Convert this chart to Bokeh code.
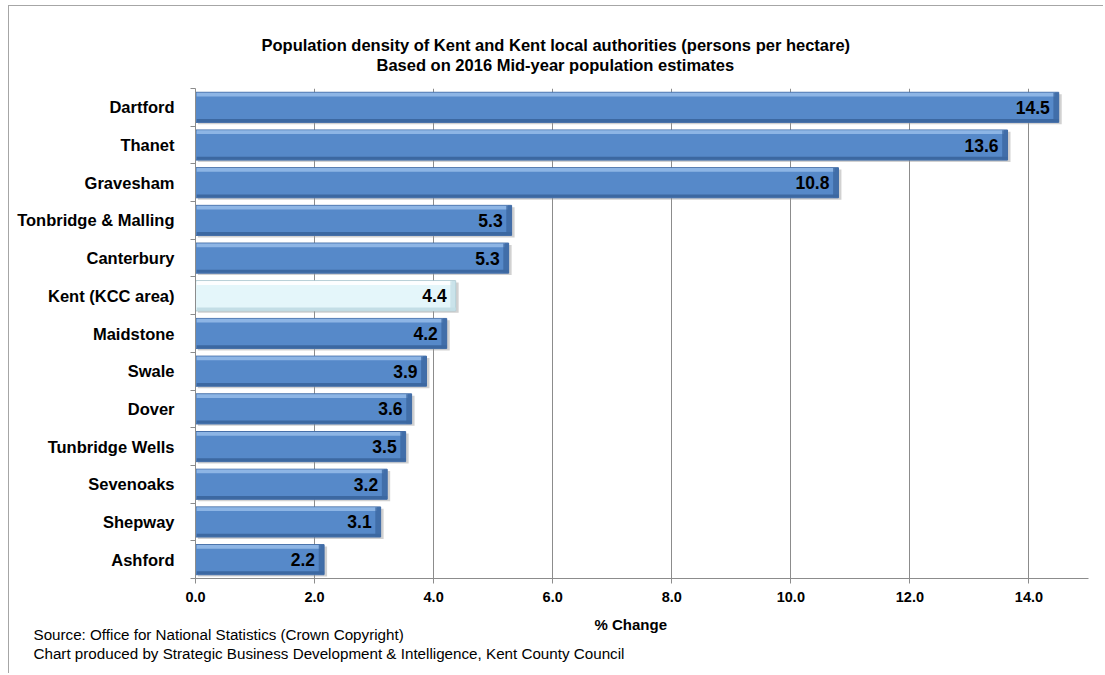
from bokeh.plotting import figure
from bokeh.models import FixedTicker, Title, ColumnDataSource, Range1d
from bokeh.transform import dodge
from bokeh.embed import file_html
from bokeh.resources import INLINE
from bokeh.core.properties import value

# ---- data ----
areas = ["Dartford", "Thanet", "Gravesham", "Tonbridge & Malling", "Canterbury",
         "Kent (KCC area)", "Maidstone", "Swale", "Dover", "Tunbridge Wells",
         "Sevenoaks", "Shepway", "Ashford"]
density = [14.5, 13.64, 10.8, 5.31, 5.26, 4.37, 4.22, 3.88, 3.63, 3.53, 3.22, 3.11, 2.16]
x_ticks = [0, 2, 4, 6, 8, 10, 12, 14]
x_tick_labels = ["0.0", "2.0", "4.0", "6.0", "8.0", "10.0", "12.0", "14.0"]
title_lines = ["Population density of Kent and Kent local authorities (persons per hectare)",
               "Based on 2016 Mid-year population estimates"]
x_title = "% Change"
source_lines = ["Source: Office for National Statistics (Crown Copyright)",
                "Chart produced by Strategic Business Development & Intelligence, Kent County Council"]

FONT = "Liberation Sans"
n = len(areas)
ypos = list(range(n - 1, -1, -1))  # Dartford at top
is_kent = [a.startswith("Kent") for a in areas]

src = ColumnDataSource(dict(
    y=ypos,
    v=density,
    label=[f"{d:.1f}" for d in density],
    main=["#E4F6FA" if k else "#5689C9" for k in is_kent],
    top=["#FFFFFF" if k else "#93BAE8" for k in is_kent],
    bot=["#C3DEE6" if k else "#3C68A1" for k in is_kent],
    edge=["#A8C5CD" if k else "#466FA8" for k in is_kent],
))

W, H = 1095, 668
XMAX = 15
p = figure(width=W, height=H, output_backend="svg", toolbar_location=None,
           x_range=Range1d(0, XMAX), y_range=Range1d(-0.5, n - 0.5),
           min_border_left=186, min_border_right=16, min_border_top=82, min_border_bottom=96)
p.styles = {"margin-left": "8px", "margin-top": "5px",
            "border-left": "1px solid #A6A6A6", "border-top": "1px solid #A6A6A6"}
p.outline_line_color = None
p.background_fill_color = "white"

# grid
p.ygrid.visible = False
p.xgrid.ticker = FixedTicker(ticks=x_ticks[1:])
p.xgrid.grid_line_color = "#8C8C8C"
p.xgrid.grid_line_width = 1

# x axis
xa = p.xaxis[0]
xa.ticker = FixedTicker(ticks=x_ticks)
xa.major_label_overrides = {t: l for t, l in zip(x_ticks, x_tick_labels)}
xa.axis_line_color = "#8C8C8C"
xa.major_tick_line_color = "#8C8C8C"
xa.major_tick_out = 5
xa.major_tick_in = 0
xa.minor_tick_line_color = None
xa.major_label_text_font = FONT
xa.major_label_text_font_style = "bold"
xa.major_label_text_font_size = "14.5px"
xa.major_label_text_color = "black"
xa.major_label_standoff = 8

# y axis
ya = p.yaxis[0]
ya.ticker = FixedTicker(ticks=ypos, minor_ticks=[i - 0.5 for i in range(n + 1)])
ya.major_label_overrides = {y: a for y, a in zip(ypos, areas)}
ya.axis_line_color = "#8C8C8C"
ya.major_tick_line_color = None
ya.minor_tick_line_color = "#8C8C8C"
ya.minor_tick_out = 5
ya.minor_tick_in = 0
ya.major_label_text_font = FONT
ya.major_label_text_font_style = "bold"
ya.major_label_text_font_size = "16.5px"
ya.major_label_text_color = "black"
ya.major_label_standoff = 15

BH = 0.8
# shadow
p.hbar(y=dodge("y", -0.05), left=0.04, right=dodge("v", 0.05), height=BH, source=src,
       fill_color="#9A9A9A", fill_alpha=0.45, line_color=None)
# main bar
p.hbar(y="y", left=0, right="v", height=BH, source=src, fill_color="main",
       line_color="edge", line_width=1)
# top highlight
p.hbar(y=dodge("y", BH / 2 - 0.06), left=0.02, right=dodge("v", -0.06), height=0.1,
       source=src, fill_color="top", line_color=None, fill_alpha=0.9)
# bottom shade
p.hbar(y=dodge("y", -BH / 2 + 0.05), left=0.02, right="v", height=0.08,
       source=src, fill_color="bot", line_color=None)
# right-end shade
p.hbar(y="y", left=dodge("v", -0.09), right="v", height=BH - 0.02,
       source=src, fill_color="bot", line_color=None, fill_alpha=0.8)

# value labels
p.text(x="v", y="y", text="label", source=src, x_offset=-9, text_align="right",
       text_baseline="middle", text_font=value(FONT), text_font_style="bold",
       text_font_size="17.5px", text_color="black")

# chart title: two lines, each centred over the whole chart (offsets from frame left)
p.add_layout(Title(text=title_lines[1], align="left", offset=181, vertical_align="bottom",
                   standoff=29.6, text_font=FONT, text_font_style="bold",
                   text_font_size="16.5px", text_color="black"), "above")
p.add_layout(Title(text=title_lines[0], align="left", offset=66, vertical_align="bottom",
                   standoff=-30.4, text_font=FONT, text_font_style="bold",
                   text_font_size="16.5px", text_color="black"), "above")

# axis title and source notes
p.add_layout(Title(text=x_title, align="left", offset=399, vertical_align="top",
                   standoff=23, text_font=FONT, text_font_style="bold",
                   text_font_size="15px", text_color="black"), "below")
p.add_layout(Title(text="\n".join(source_lines), align="left", offset=-162,
                   vertical_align="top", standoff=-42, text_font=FONT,
                   text_font_style="normal", text_font_size="15.2px",
                   text_line_height=1.13, text_color="black"), "below")

open("out.html", "w").write(file_html(p, INLINE))
